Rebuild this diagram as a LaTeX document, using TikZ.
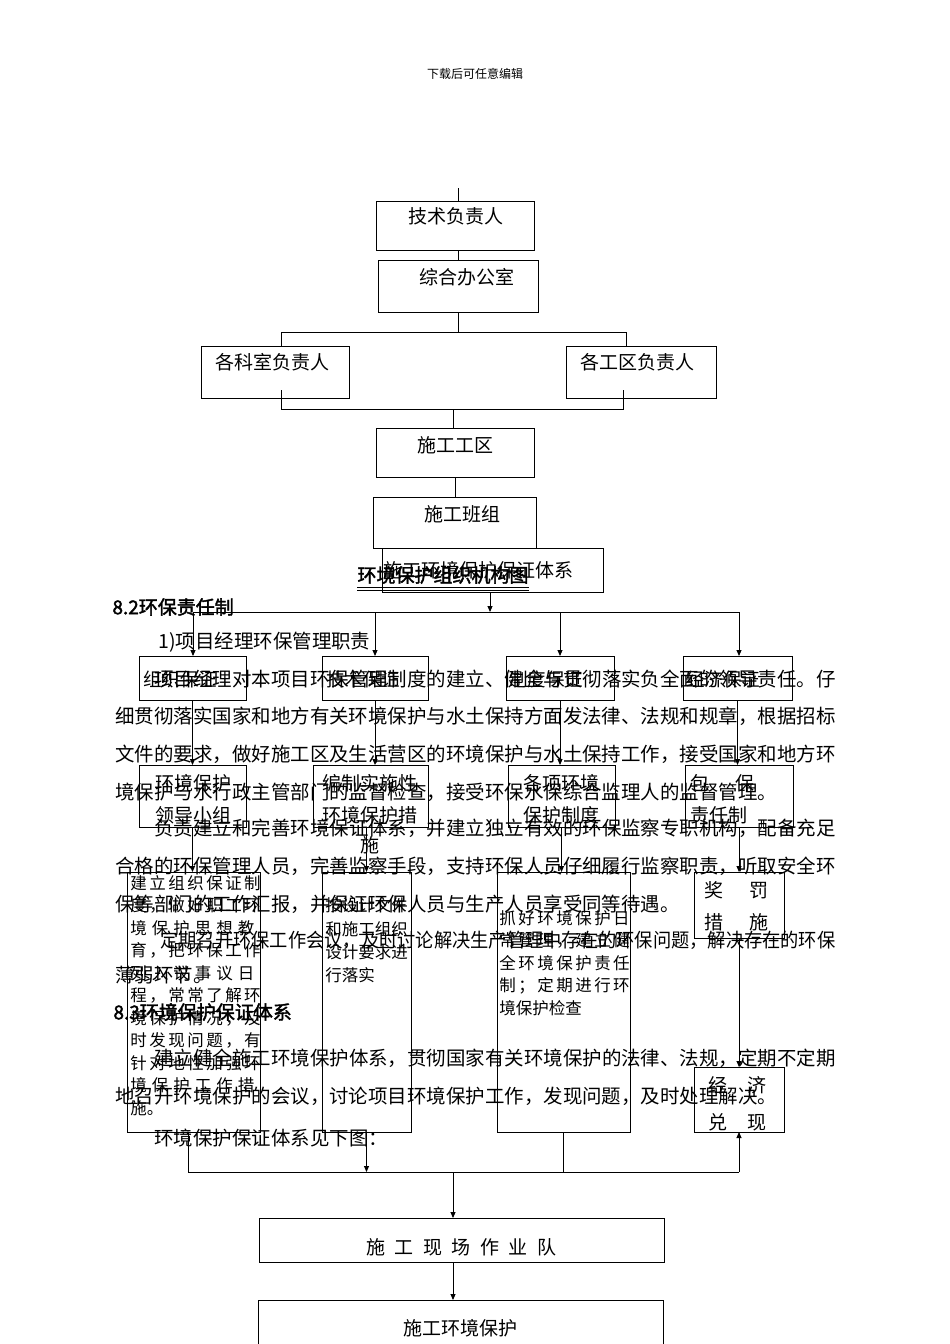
\documentclass[tikz,border=0pt]{standalone}
\usepackage{graphicx}
\usepackage{fontspec}
\setmainfont{Noto Sans CJK SC}
\newfontfamily\cjkb[FakeBold=2]{Noto Sans CJK SC}
\usetikzlibrary{arrows.meta,calc}
\newcommand\fsz[1]{\fontsize{#1pt}{#1pt}\selectfont}
\newcommand\bx[5]{\node[box,anchor=north west,minimum width={(#4-#2)*1pt},minimum height={(#5-#3)*1pt}] (#1) at (#2,#3) {};}
\tikzset{
  box/.style={draw,line width=0.9pt,inner sep=0pt,outer sep=0pt},
  arr/.style={-{Triangle[length=6pt,width=5pt]}},
  para/.style={anchor=west,inner sep=0pt,font=\fsz{19.46}},
  btxt/.style={inner sep=0pt,font=\fsz{19}},
  stxt/.style={anchor=west,inner sep=0pt,font=\fsz{16.5}},
  hd/.style={anchor=west,inner sep=0pt,font=\cjkb\fsz{19}}
}
\begin{document}
\begin{tikzpicture}[x=1pt,y=-1pt,line width=0.9pt]
\useasboundingbox (0,0) rectangle (950,1344);
\fill[white] (0,0) rectangle (950,1344);

% header
\node[inner sep=0pt,font=\fsz{12}] (hdr) at (475,74) {下载后可任意编辑};

% ---------- organisation chart ----------
\bx{jishu}{376}{201}{534}{250}
\bx{zonghe}{378}{260}{538}{312}
\bx{keshi}{201}{346}{349}{398}
\bx{gongqu}{566}{346}{716}{398}
\bx{sgqu}{376}{428}{534}{477}
\bx{banzu}{373}{497}{536}{548}
\bx{tixi}{382}{548}{603}{592}

\node[btxt] (tjishu) at (455.5,216) {技术负责人};
\node[btxt] (tzonghe) at (467,277) {综合办公室};
\node[btxt,anchor=west] (tkeshi) at (215,362) {各科室负责人};
\node[btxt,anchor=west] (tgongqu) at (580,362) {各工区负责人};
\node[btxt] (tsgqu) at (455,445) {施工工区};
\node[btxt] (tbanzu) at (462,514) {施工班组};
\node[btxt,anchor=west] (ttixi) at (383,570) {施工环境保护保证体系};

\coordinate (top0) at (458,188);
\coordinate (b1) at (458,332);
\coordinate (b1l) at (281,332);
\coordinate (b1r) at (626,332);
\coordinate (k1) at (281,390);
\coordinate (g1) at (623,390);
\coordinate (b2l) at (281,409);
\coordinate (b2r) at (623,409);
\coordinate (b2) at (453,409);
\coordinate (x455) at (455,0);

\draw (top0) -- (top0 |- jishu.north);
\draw (jishu.south -| top0) -- (zonghe.north -| top0);
\draw (zonghe.south -| b1) -- (b1);
\draw (keshi.north -| b1l) -- (b1l) -- (b1r) -- (gongqu.north -| b1r);
\draw (k1) -- (b2l) -- (b2r) -- (g1);
\draw (b2) -- (sgqu.north -| b2);
\draw (sgqu.south -| x455) -- (banzu.north -| x455);

% ---------- title and text ----------
\node[inner sep=0pt,font=\cjkb\fsz{19}] (title) at (443,575) {环境保护组织机构图};
\draw[line width=0.7pt] ([yshift=-3pt]title.south west) -- ([yshift=-3pt]title.south east);
\draw[line width=0.7pt] ([yshift=-6pt]title.south west) -- ([yshift=-6pt]title.south east);

\node[hd] (h82) at (112,607) {8.2环保责任制};
\node[para] (sub1) at (158,642) {1)项目经理环保管理职责};
\node[para] (p1) at (154,679) {项目经理对本项目环保管理制度的建立、健全与贯彻落实负全面的领导责任。仔};
\node[para] (p2) at (115,716) {细贯彻落实国家和地方有关环境保护与水土保持方面发法律、法规和规章，根据招标};
\node[para] (p3) at (115,754) {文件的要求，做好施工区及生活营区的环境保护与水土保持工作，接受国家和地方环};
\node[para] (p4) at (115,792) {境保护与水行政主管部门的监督检查，接受环保水保综合监理人的监督管理。};
\node[para] (p5) at (154,828) {负责建立和完善环境保证体系，并建立独立有效的环保监察专职机构，配备充足};
\node[para] (p6) at (115,866) {合格的环保管理人员，完善监察手段，支持环保人员仔细履行监察职责，听取安全环};
\node[para] (p7) at (115,904) {保等部门的工作汇报，并保证环保人员与生产人员享受同等待遇。};
\node[para] (p8) at (160,940) {\resizebox{675pt}{\height}{定期召开环保工作会议，及时讨论解决生产管理中存在的环保问题，解决存在的环保}};
\node[para] (p9) at (115,975) {薄弱环节。};
\node[hd] (h83) at (113,1012) {8.3环境保护保证体系};
\node[para] (p10) at (154,1058) {建立健全施工环境保护体系，贯彻国家有关环境保护的法律、法规，定期不定期};
\node[para] (p11) at (115,1096) {地召开环境保护的会议，讨论项目环境保护工作，发现问题，及时处理解决。};
\node[para] (p12) at (154,1138) {环境保护保证体系见下图：};

% ---------- guarantee system chart ----------
\bx{r1a}{139}{656}{246}{700}
\bx{r1b}{322}{656}{428}{700}
\bx{r1c}{506}{656}{614}{700}
\bx{r1d}{683}{656}{792}{700}
\node[btxt,anchor=west,font=\fsz{18.5}] (t1a) at (143,679) {组织保证};
\node[btxt,anchor=west,font=\fsz{18.5}] (t1b) at (326,679) {技术保证};
\node[btxt,anchor=west,font=\fsz{18.5}] (t1c) at (509,679) {制度保证};
\node[btxt,anchor=west,font=\fsz{18.5}] (t1d) at (686,679) {经济保证};

\bx{r2a}{139}{765}{246}{827}
\bx{r2b}{313}{765}{428}{827}
\bx{r2c}{508}{765}{615}{827}
\bx{r2d}{685}{765}{793}{827}
\node[btxt] (t2a1) at (193,783) {环境保护};
\node[btxt] (t2a2) at (193,815) {领导小组};
\node[btxt] (t2b1) at (370,783) {编制实施性};
\node[btxt] (t2b2) at (370,815) {环境保护措};
\node[btxt] (t2b3) at (370,845) {施};
\node[btxt] (t2c1) at (561,783) {各项环境};
\node[btxt] (t2c2) at (561,815) {保护制度};
\node[btxt,anchor=west] (t2d1) at (690,783) {\makebox[64pt][s]{包 保}};
\node[btxt,anchor=west] (t2d2) at (690,815) {责任制};

\bx{r3a}{127}{872}{260}{1132}
\bx{r3b}{322}{872}{411}{1132}
\bx{r3c}{497}{872}{630}{1132}
\bx{r3d}{694}{872}{784}{938}
\bx{jingji}{694}{1067}{784}{1132}

\node[stxt] (a1) at (130,883) {\makebox[124pt][s]{建 立 组 织 保 证 制}};
\node[stxt] (a2) at (130,905.5) {\makebox[124pt][s]{度 ， 做 好 职 工 环}};
\node[stxt] (a3) at (130,928) {\makebox[124pt][s]{境 保 护 思 想 教}};
\node[stxt] (a4) at (130,950.5) {\makebox[124pt][s]{育 ， 把 环 保 工 作}};
\node[stxt] (a5) at (130,973) {\makebox[124pt][s]{列 入 议 事 议 日}};
\node[stxt] (a6) at (130,995.5) {\makebox[124pt][s]{程 ， 常 常 了 解 环}};
\node[stxt] (a7) at (130,1018) {\makebox[124pt][s]{境 保 护 情 况 ， 及}};
\node[stxt] (a8) at (130,1040.5) {\makebox[124pt][s]{时 发 现 问 题 ， 有}};
\node[stxt] (a9) at (130,1063) {\makebox[124pt][s]{针 对 地 性 加 强 环}};
\node[stxt] (a10) at (130,1085.5) {\makebox[124pt][s]{境 保 护 工 作 措}};
\node[stxt] (a11) at (130,1108) {施。};

\node[stxt] (b1t) at (325,905) {按设计文件};
\node[stxt] (b2t) at (325,929) {和施工组织};
\node[stxt] (b3t) at (325,952) {设计要求进};
\node[stxt] (b4t) at (325,975) {行落实};

\node[stxt] (c1t) at (499,918) {\makebox[128pt][s]{抓 好 环 境 保 护 日}};
\node[stxt] (c2t) at (499,940.5) {\makebox[128pt][s]{常 管 理 ， 建 立 健}};
\node[stxt] (c3t) at (499,963) {\makebox[128pt][s]{全 环 境 保 护 责 任}};
\node[stxt] (c4t) at (499,985.5) {\makebox[128pt][s]{制 ； 定 期 进 行 环}};
\node[stxt] (c5t) at (499,1008) {境保护检查};

\node[btxt,anchor=west] (d1t) at (704,890) {\makebox[64pt][s]{奖 罚}};
\node[btxt,anchor=west] (d2t) at (704,922) {\makebox[64pt][s]{措 施}};
\node[btxt,anchor=west] (e1t) at (708,1085) {\makebox[58pt][s]{经 济}};
\node[btxt,anchor=west] (e2t) at (708,1122) {\makebox[58pt][s]{兑 现}};

\bx{duiwu}{259}{1218}{664}{1262}
\bx{baohu}{258}{1300}{663}{1352}
\node[btxt,anchor=west] (tduiwu) at (366,1247) {\makebox[190pt][s]{施 工 现 场 作 业 队}};
\node[btxt] (tbaohu) at (460,1328) {施工环境保护};

% connectors
\coordinate (b3) at (490,612);
\coordinate (b3l) at (193,612);
\coordinate (b3r) at (739,612);
\draw[arr] (tixi.south -| b3) -- (b3);
\draw (b3l) -- (b3r);
\draw[arr] (b3l) -- (r1a.north -| b3l);
\draw[arr] (r1b.north |- b3l) -- (r1b.north);
\draw[arr] (r1c.north |- b3l) -- (r1c.north);
\draw[arr] (b3r) -- (r1d.north -| b3r);

\draw[arr] (r1a.south) -- (r1a.south |- r2a.north);
\draw[arr] (r1b.south) -- (r1b.south |- r2b.north);
\draw[arr] (r1c.south) -- (r1c.south |- r2c.north);
\draw[arr] (r1d.south) -- (r1d.south |- r2d.north);

\draw[arr] (r2a.south) -- (r2a.south |- r3a.north);
\draw[arr] (r3b.north |- r2b.south) -- (r3b.north);
\draw[arr] (r2c.south) -- (r2c.south |- r3c.north);
\draw[arr] (r3d.north |- r2d.south) -- (r3d.north);
\draw[arr] (r3d.south) -- (jingji.north);

\coordinate (b4l) at (188,1172);
\coordinate (b4r) at (739,1172);
\coordinate (b4) at (453,1172);
\draw (r3a.south -| b4l) -- (b4l) -- (b4r);
\draw[arr] (r3b.south) -- (r3b.south |- b4l);
\draw (r3c.south) -- (r3c.south |- b4l);
\draw[arr] (b4r) -- (jingji.south);
\draw[arr] (b4) -- (duiwu.north -| b4);
\draw[arr] (duiwu.south -| b4) -- (baohu.north -| b4);
\end{tikzpicture}
\end{document}
